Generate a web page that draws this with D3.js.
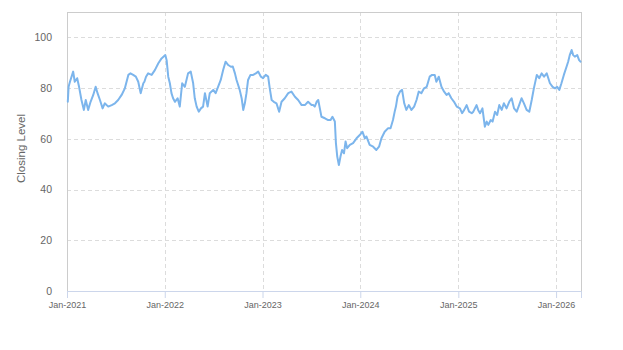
<!DOCTYPE html>
<html>
<head>
<meta charset="utf-8">
<script src="https://cdn.jsdelivr.net/npm/d3@7"></script>
<style>
  html, body { margin: 0; padding: 0; background: #ffffff; }
  svg { display: block; font-family: "Liberation Sans", Arial, Helvetica, sans-serif; }
</style>
</head>
<body>
<svg id="chart" width="623" height="350"></svg>
<script>
// Closing level observations
const dates = [
  "2021-01-04","2021-01-07","2021-01-12","2021-01-24","2021-01-30","2021-02-08","2021-02-15","2021-02-24",
  "2021-03-05","2021-03-12","2021-03-21","2021-03-30","2021-04-09","2021-04-18","2021-04-25","2021-05-04",
  "2021-05-14","2021-05-22","2021-06-04","2021-06-17","2021-06-29","2021-07-11","2021-07-24","2021-08-05",
  "2021-08-18","2021-08-26","2021-09-05","2021-09-15","2021-09-24","2021-10-03","2021-10-13","2021-10-17",
  "2021-10-23","2021-10-31","2021-11-13","2021-11-25","2021-12-08","2021-12-20",
  "2022-01-03","2022-01-08","2022-01-14","2022-01-20","2022-01-26","2022-02-01","2022-02-08","2022-02-18",
  "2022-02-26","2022-03-07","2022-03-17","2022-03-29","2022-04-08","2022-04-17","2022-04-23","2022-04-30",
  "2022-05-08","2022-05-16","2022-05-24","2022-05-31","2022-06-10","2022-06-18","2022-07-01","2022-07-10",
  "2022-07-19","2022-07-29","2022-08-07","2022-08-16","2022-08-26","2022-09-05","2022-09-12","2022-09-20",
  "2022-09-26","2022-10-02","2022-10-08","2022-10-15","2022-10-21","2022-10-27","2022-11-02","2022-11-08",
  "2022-11-17","2022-11-27","2022-12-07","2022-12-16","2022-12-26",
  "2023-01-03","2023-01-13","2023-01-22","2023-01-28","2023-02-04","2023-02-12","2023-02-22","2023-03-04",
  "2023-03-13","2023-03-25","2023-04-07","2023-04-19","2023-05-02","2023-05-14","2023-05-27","2023-06-08",
  "2023-06-20","2023-07-03","2023-07-09","2023-07-15","2023-07-22","2023-07-28","2023-08-03","2023-08-09",
  "2023-08-22","2023-09-03","2023-09-12","2023-09-19","2023-09-28","2023-10-02","2023-10-07","2023-10-13",
  "2023-10-19","2023-10-25","2023-11-01","2023-11-07","2023-11-13","2023-11-23","2023-12-05","2023-12-18",
  "2023-12-30",
  "2024-01-09","2024-01-18","2024-01-24","2024-02-05","2024-02-18","2024-03-01","2024-03-11","2024-03-20",
  "2024-04-01","2024-04-14","2024-04-23","2024-05-02","2024-05-09","2024-05-13","2024-05-19","2024-05-28",
  "2024-06-05","2024-06-13","2024-06-21","2024-06-30","2024-07-10","2024-07-20","2024-07-29","2024-08-06",
  "2024-08-16","2024-08-26","2024-09-05","2024-09-16","2024-09-25","2024-10-05","2024-10-11","2024-10-20",
  "2024-10-30","2024-11-09","2024-11-18","2024-11-26","2024-12-06","2024-12-16","2024-12-26",
  "2025-01-07","2025-01-15","2025-01-23","2025-02-01","2025-02-10","2025-02-20","2025-02-26","2025-03-10",
  "2025-03-16","2025-03-23","2025-04-01","2025-04-10","2025-04-17","2025-04-23","2025-05-02","2025-05-09",
  "2025-05-18","2025-05-26","2025-06-03","2025-06-12","2025-06-20","2025-06-30","2025-07-10","2025-07-19",
  "2025-07-28","2025-08-07","2025-08-16","2025-08-25","2025-09-03","2025-09-13","2025-09-23","2025-10-02",
  "2025-10-10","2025-10-21","2025-10-30","2025-11-08","2025-11-17","2025-11-27","2025-12-03","2025-12-09",
  "2025-12-19","2025-12-28",
  "2026-01-05","2026-01-13","2026-01-21","2026-01-30","2026-02-09","2026-02-15","2026-02-21","2026-02-28",
  "2026-03-06","2026-03-12","2026-03-21","2026-03-28","2026-04-02"
];
const closes = [
  74.6,80.5,82.5,86.5,82.5,83.9,80.5,75.3,
  71.4,75.3,71.4,74.6,77.3,80.5,78.0,75.3,
  72.0,74.0,72.7,73.3,74.0,75.3,77.3,79.9,
  85.2,85.8,85.2,84.5,82.5,78.0,81.9,82.5,
  84.5,85.8,85.2,87.1,89.8,91.7,
  93.0,91.0,84.5,81.9,78.0,76.0,74.6,76.0,
  72.7,81.9,80.5,85.8,86.5,81.9,76.0,72.7,
  70.7,72.0,72.7,78.0,72.7,78.0,79.3,78.0,
  80.5,83.2,87.1,90.4,89.1,88.4,88.5,85.8,
  83.2,81.2,79.2,76.0,71.4,74.0,78.0,83.2,
  85.2,85.2,85.8,86.5,84.5,
  83.9,85.2,84.5,79.9,75.3,74.6,74.0,70.7,
  74.6,76.0,78.0,78.6,76.6,75.3,73.3,73.3,
  74.6,73.3,73.3,72.7,74.6,75.3,72.0,68.7,
  68.1,67.4,67.4,68.7,66.8,58.3,53.0,49.7,
  53.0,55.6,54.3,58.9,56.3,57.6,58.3,60.2,
  61.5,
  62.8,60.2,60.9,57.6,56.9,55.6,56.9,60.2,
  62.8,64.2,64.2,67.4,71.0,72.7,76.6,78.6,
  79.3,74.0,71.4,73.3,71.4,72.7,75.3,78.6,
  78.0,79.9,80.5,84.5,85.2,85.2,82.5,84.5,
  80.5,78.6,77.3,78.0,76.0,74.6,72.7,
  72.0,70.1,71.4,73.3,70.7,70.1,70.7,73.3,
  71.4,70.1,72.0,64.8,66.8,65.5,67.4,66.8,
  70.7,69.4,73.3,71.4,74.0,72.0,74.6,76.0,
  72.0,70.7,73.3,76.0,74.0,71.4,70.7,75.3,
  79.9,85.2,83.9,85.8,84.5,85.8,83.9,81.9,
  80.5,79.9,
  80.5,79.3,81.9,85.2,88.4,90.4,93.0,95.0,
  93.0,92.4,93.0,91.0,90.4
];
const yTicks = [0, 20, 40, 60, 80, 100];
const xTickLabels = ["Jan-2021","Jan-2022","Jan-2023","Jan-2024","Jan-2025","Jan-2026"];
const xTickDates = ["2021-01-01","2022-01-01","2023-01-01","2024-01-01","2025-01-01","2026-01-01"];
const yTitle = "Closing Level";

const parse = d3.timeParse("%Y-%m-%d");
const series = dates.map((d, i) => ({ date: parse(d), value: closes[i] }));

const width = 623, height = 350;
const margin = { top: 12, right: 42, bottom: 59, left: 67 };
const iw = width - margin.left - margin.right;
const ih = height - margin.top - margin.bottom;

const svg = d3.select("#chart");
const g = svg.append("g").attr("transform", `translate(${margin.left},${margin.top})`);

const x = d3.scaleTime()
  .domain([parse("2021-01-01"), parse("2026-04-04")])
  .range([0, iw]);
const y = d3.scaleLinear().domain([0, 110]).range([ih, 0]);

// dashed grid
g.append("g")
  .selectAll("line")
  .data(yTicks.filter(v => v > 0))
  .join("line")
  .attr("x1", 0).attr("x2", iw)
  .attr("y1", d => Math.round(y(d)) + 0.5).attr("y2", d => Math.round(y(d)) + 0.5)
  .attr("stroke", "#dcdcdc").attr("stroke-dasharray", "4,3");

g.append("g")
  .selectAll("line")
  .data(xTickDates.slice(1).map(parse))
  .join("line")
  .attr("x1", d => Math.round(x(d)) + 0.5).attr("x2", d => Math.round(x(d)) + 0.5)
  .attr("y1", 0).attr("y2", ih)
  .attr("stroke", "#dcdcdc").attr("stroke-dasharray", "4,3");

// plot frame
g.append("rect")
  .attr("x", 0.5).attr("y", 0.5)
  .attr("width", iw).attr("height", ih)
  .attr("fill", "none").attr("stroke", "#cccccc");

// x axis
const xAxis = d3.axisBottom(x)
  .tickValues(xTickDates.map(parse))
  .tickFormat((d, i) => xTickLabels[i])
  .tickSizeOuter(0)
  .tickSize(7)
  .tickPadding(4);
const xg = g.append("g").attr("transform", `translate(0,${ih})`).call(xAxis);
xg.select(".domain").attr("stroke", "#ccd6eb");
xg.selectAll(".tick line").attr("stroke", "#ccd6eb");
xg.selectAll(".tick text").attr("fill", "#666666").attr("font-size", "9px")
  .attr("font-family", "Liberation Sans, Arial, sans-serif");

// y axis
const yAxis = d3.axisLeft(y).tickValues(yTicks).tickSize(0).tickPadding(15);
const yg = g.append("g").call(yAxis);
yg.select(".domain").remove();
yg.selectAll(".tick text").attr("fill", "#666666").attr("font-size", "10.5px")
  .attr("font-family", "Liberation Sans, Arial, sans-serif");

// y axis title
svg.append("text")
  .attr("transform", `translate(25,${margin.top + ih / 2 - 3}) rotate(-90)`)
  .attr("text-anchor", "middle")
  .attr("fill", "#666666")
  .attr("font-size", "11.5px")
  .text(yTitle);

// closing level line
const line = d3.line()
  .x(d => x(d.date))
  .y(d => y(d.value))
  .curve(d3.curveLinear);

g.append("path")
  .datum(series)
  .attr("fill", "none")
  .attr("stroke", "#7cb5ec")
  .attr("stroke-width", 2)
  .attr("stroke-linejoin", "round")
  .attr("stroke-linecap", "round")
  .attr("d", line);
</script>
</body>
</html>
